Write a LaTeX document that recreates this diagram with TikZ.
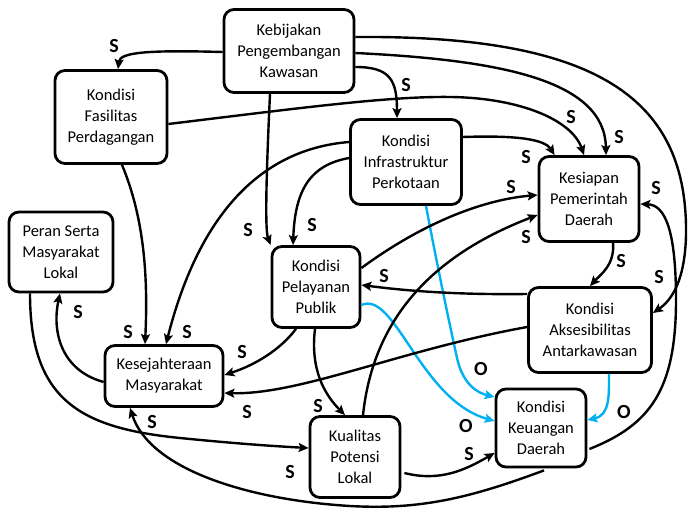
\documentclass[tikz,border=0pt]{standalone}
\usepackage{fontspec}
\setmainfont{Carlito}
\usetikzlibrary{arrows.meta,calc}
\definecolor{bl}{RGB}{0,176,240}
\begin{document}
\begin{tikzpicture}[x=1pt,y=-1pt,
  box/.style={draw,line width=2.8pt,rounded corners=10pt,align=center,inner sep=0pt,fill=white,
    font=\fontsize{16.5}{21}\selectfont},
  arr/.style={line width=2.4pt,-{Stealth[length=10pt,width=9pt,inset=2pt]}},
  barr/.style={arr,draw=bl},
  lbl/.style={font=\fontsize{20}{20}\selectfont\bfseries,inner sep=0pt}]
\useasboundingbox (0,0) rectangle (688,508);

% nodes
\node[box,minimum width=130pt,minimum height=83pt] (K) at (289,51) {Kebijakan\\Pengembangan\\Kawasan};
\node[box,minimum width=112pt,minimum height=93pt] (F) at (111,117) {Kondisi\\Fasilitas\\Perdagangan};
\node[box,minimum width=104pt,minimum height=80pt] (PS) at (61,252) {Peran Serta\\Masyarakat\\Lokal};
\node[box,minimum width=111pt,minimum height=85pt] (I) at (406,162) {Kondisi\\Infrastruktur\\Perkotaan};
\node[box,minimum width=100pt,minimum height=85pt] (Ks) at (589,199) {Kesiapan\\Pemerintah\\Daerah};
\node[box,minimum width=88pt,minimum height=81pt] (P) at (316,287) {Kondisi\\Pelayanan\\Publik};
\node[box,minimum width=118pt,minimum height=61pt] (Kj) at (164,376) {Kesejahteraan\\Masyarakat};
\node[box,minimum width=123pt,minimum height=85pt] (A) at (590,330) {Kondisi\\Aksesibilitas\\Antarkawasan};
\node[box,minimum width=90pt,minimum height=78pt] (Ku) at (541,428) {Kondisi\\Keuangan\\Daerah};
\node[box,minimum width=90pt,minimum height=81pt] (Q) at (355,457) {Kualitas\\Potensi\\Lokal};

% connectors
\draw[arr] ($(K.west)+(0,1)$) .. controls (150,50) and (120,52) .. ($(F.north)+(7,0)$);
\draw[arr] ($(K.south)+(-19,0)$) .. controls (266,180) and (265,230) .. (P.north west);
\draw[arr] ($(K.east)+(0,16)$) .. controls (390,67) and (397,80) .. ($(I.north)+(-9,0)$);
\draw[arr] ($(K.east)+(0,2)$) .. controls (500,60) and (605,80) .. ($(Ks.north)+(17,0)$);
\draw[arr] ($(K.east)+(0,-14)$) .. controls (600,35) and (688,100) .. (686,235)
  .. controls (685,280) and (672,300) .. ($(A.east)+(0,-17)$);
\draw[arr] ($(F.east)+(0,7)$) .. controls (300,108) and (390,96) .. (451,97)
  .. controls (520,98) and (572,120) .. ($(Ks.north)+(-5,0)$);
\draw[arr] ($(F.south)+(11,0)$) .. controls (145,220) and (148,280) .. ($(Kj.north)+(-19,0)$);
\draw[arr] ($(I.east)+(0,-25)$) .. controls (520,135) and (545,140) .. ($(Ks.north west)+(17,0)$);
\draw[arr] ($(I.west)+(0,-4)$) .. controls (310,165) and (295,190) .. ($(P.north)+(-23,0)$);
\draw[arr] ($(I.west)+(0,-20)$) .. controls (250,150) and (195,230) .. ($(Kj.north)+(2,0)$);
\draw[barr] ($(I.south)+(20,0)$) .. controls (440,280) and (452,335) .. (457,358)
  .. controls (463,385) and (478,393) .. ($(Ku.west)+(0,-31)$);
\draw[arr] ($(P.east)+(0,-19)$) .. controls (420,225) and (480,200) .. ($(Ks.west)+(0,-4)$);
\draw[arr] ($(P.south)+(-20,0)$) .. controls (280,350) and (255,365) .. ($(Kj.east)+(0,-1)$);
\draw[arr] ($(P.south)+(-1,0)$) .. controls (310,370) and (325,395) .. ($(Q.north)+(-10,0)$);
\draw[barr] ($(P.east)+(0,18)$) .. controls (395,290) and (420,400) .. ($(Ku.west)+(0,-7)$);
\draw[arr] ($(A.west)+(0,-36)$) .. controls (450,295) and (400,290) .. ($(P.east)+(0,-2)$);
\draw[arr] ($(A.west)+(0,-3)$) .. controls (400,350) and (300,395) .. ($(Kj.east)+(0,17)$);
\draw[barr] ($(A.south)+(19,0)$) .. controls (609,395) and (610,415) .. ($(Ku.east)+(0,-8)$);
\draw[arr] ($(Ks.south)+(24,0)$) .. controls (615,265) and (600,275) .. (A.north);
\draw[arr] ($(Kj.west)+(0,6)$) .. controls (60,370) and (52,330) .. ($(PS.south)+(-1,0)$);
\draw[arr] ($(PS.south)+(-31,0)$) .. controls (30,400) and (80,428) .. (180,438)
  .. controls (230,443) and (270,446) .. ($(Q.west)+(0,-9)$);
\draw[arr] ($(Q.north)+(8,0)$) .. controls (372,330) and (420,260) .. ($(Ks.west)+(0,16)$);
\draw[arr] ($(Q.east)+(3,16)$) .. controls (440,482) and (465,470) .. ($(Ku.west)+(0,25)$);
\draw[arr] ($(Ku.south)+(3,2)$) .. controls (470,498) and (420,510) .. (350,506)
  .. controls (250,500) and (150,470) .. ($(Kj.south)+(-34,0)$);
\draw[arr] ($(Ku.east)+(2,21)$) .. controls (650,425) and (676,390) .. (676,300)
  .. controls (676,230) and (665,205) .. ($(Ks.east)+(0,5)$);

% labels
\node[lbl] (l1) at (114,46) {S};
\node[lbl] (l2) at (248,230) {S};
\node[lbl] (l3) at (312,225) {S};
\node[lbl] (l4) at (406,85) {S};
\node[lbl] (l5) at (571,117) {S};
\node[lbl] (l6) at (619,137) {S};
\node[lbl] (l7) at (526,157) {S};
\node[lbl] (l8) at (511,187) {S};
\node[lbl] (l9) at (656,188) {S};
\node[lbl] (l10) at (526,237) {S};
\node[lbl] (l11) at (78,312) {S};
\node[lbl] (l12) at (128,332) {S};
\node[lbl] (l13) at (187,332) {S};
\node[lbl] (l14) at (242,352) {S};
\node[lbl] (l15) at (247,412) {S};
\node[lbl] (l16) at (152,422) {S};
\node[lbl] (l17) at (318,406) {S};
\node[lbl] (l18) at (290,472) {S};
\node[lbl] (l19) at (384,276) {S};
\node[lbl] (l20) at (469,454) {S};
\node[lbl] (l21) at (621,261) {S};
\node[lbl] (l22) at (659,277) {S};
\node[lbl] (o1) at (481,369) {O};
\node[lbl] (o2) at (466,426) {O};
\node[lbl] (o3) at (624,412) {O};
\end{tikzpicture}
\end{document}
